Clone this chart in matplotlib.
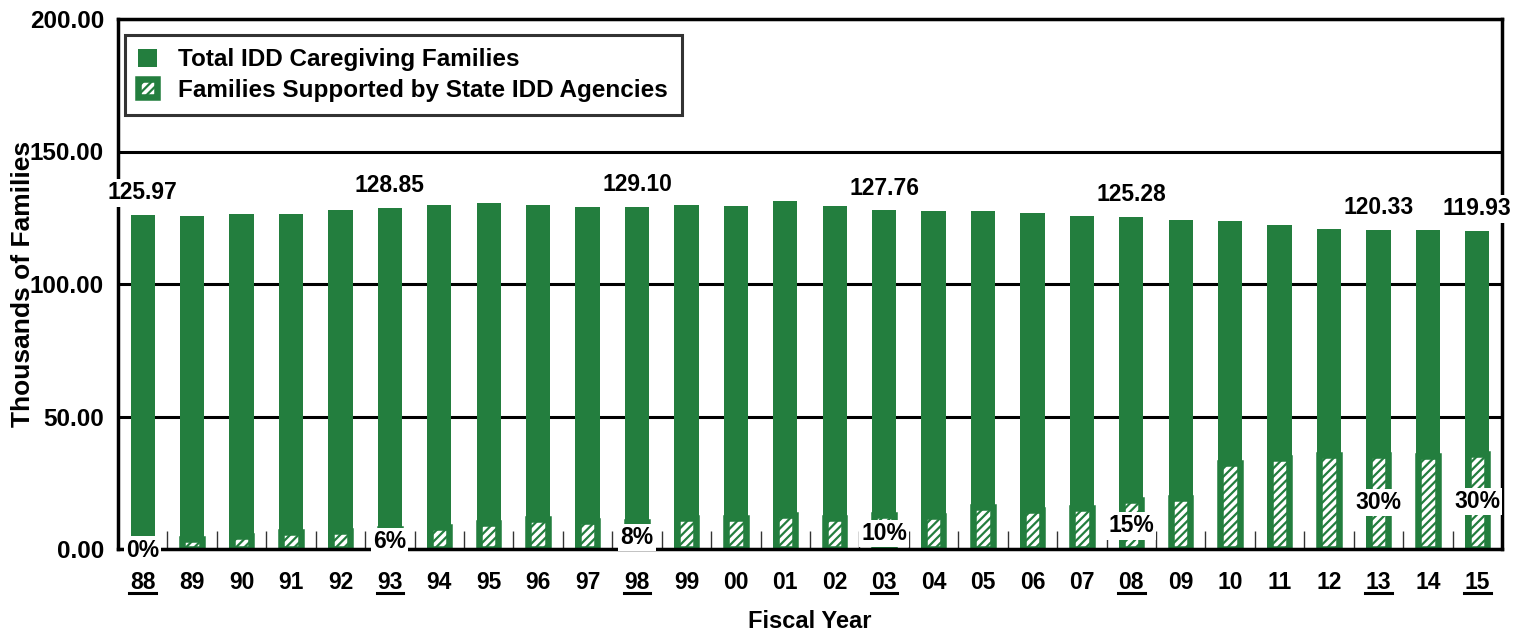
import numpy as np
import matplotlib
matplotlib.use("Agg")
from matplotlib import pyplot as plt
from matplotlib import transforms

plt.rcParams['font.family'] = ['Liberation Sans', 'DejaVu Sans']
plt.rcParams['font.weight'] = 'bold'
plt.rcParams['hatch.linewidth'] = 1.6

# fiscal years and values (thousands of families)
years = ["88", "89", "90", "91", "92", "93", "94", "95", "96", "97",
         "98", "99", "00", "01", "02", "03", "04", "05", "06", "07",
         "08", "09", "10", "11", "12", "13", "14", "15"]
total_families = [125.97, 125.6, 126.3, 126.6, 128.0, 128.85, 129.7, 130.5, 130.0, 128.9,
                  129.10, 129.8, 129.4, 131.4, 129.4, 127.76, 127.7, 127.4, 126.8, 125.5,
                  125.28, 124.3, 123.9, 122.4, 120.9, 120.33, 120.3, 119.93]
supported_families = [0.0, 3.8, 5.0, 6.4, 6.8, 7.7, 8.3, 10.0, 11.2, 10.7,
                      10.3, 11.6, 11.7, 12.8, 11.8, 12.8, 12.4, 15.8, 14.8, 15.6,
                      18.6, 19.2, 32.6, 34.2, 35.6, 35.6, 35.0, 36.0]
# bars that get value labels / underlined year
highlight = [0, 5, 10, 15, 20, 25, 27]
# vertical spot of the percent labels (data units)
pct_label_y = [-0.4, 2.75, 4.5, 6.0, 8.7, 17.4, 17.8]

GREEN = '#237E3E'

fig = plt.figure(figsize=(15.28, 6.31), dpi=100)
ax = fig.add_axes([118 / 1528, 82 / 631, 1384 / 1528, 530 / 631])

x = np.arange(len(years))
ax.bar(x, total_families, width=0.49, color=GREEN, zorder=2,
       label='Total IDD Caregiving Families')
ax.bar(x, supported_families, width=0.395, facecolor='white', edgecolor=GREEN,
       linewidth=4.7, hatch='////', zorder=2.2,
       label='Families Supported by State IDD Agencies')

ax.set_xlim(-0.5, len(years) - 0.5)
ax.set_ylim(0, 200)
ax.set_yticks([0, 50, 100, 150, 200])
ax.set_yticklabels([f"{v:.2f}" for v in [0, 50, 100, 150, 200]])
ax.tick_params(axis='y', length=0, pad=10, labelsize=17.5)

ax.set_xticks(x)
ax.set_xticklabels(years)
ax.tick_params(axis='x', which='major', length=0, pad=16, labelsize=16.5)
ax.set_xticks(x[:-1] + 0.5, minor=True)
ax.tick_params(axis='x', which='minor', direction='in', length=13, width=1.0, color='#333333')

ax.yaxis.grid(True, color='black', linewidth=2.2)
ax.set_axisbelow(True)
for s in ax.spines.values():
    s.set_linewidth(2.5)

ax.set_ylabel('Thousands of Families', fontsize=19, fontweight='bold')
ax.yaxis.set_label_coords(-0.069, 0.5)
ax.yaxis.label.set_verticalalignment('center')
ax.set_xlabel('Fiscal Year', fontsize=17, fontweight='bold')
ax.xaxis.set_label_coords(0.5, -0.136)
ax.xaxis.label.set_verticalalignment('center')

trans = transforms.blended_transform_factory(ax.transData, ax.transAxes)
box = dict(facecolor='white', edgecolor='none', pad=1.5)
for i, ly in zip(highlight, pct_label_y):
    ax.annotate(f"{total_families[i]:.2f}", (x[i], total_families[i]), xytext=(0, 16),
                textcoords='offset points', ha='center', va='center', fontsize=16.5,
                bbox=box, zorder=5, annotation_clip=False)
    pct = round(supported_families[i] / total_families[i] * 100)
    ax.text(x[i], ly, f"{pct}%", ha='center', va='center', fontsize=16.5,
            bbox=box, zorder=5, clip_on=False)
    ax.plot([x[i] - 0.27, x[i] + 0.27], [-0.083, -0.083], color='black', lw=2.2,
            transform=trans, clip_on=False)

leg = ax.legend(loc='upper left', bbox_to_anchor=(0.005, 0.97), borderaxespad=0,
                fontsize=17.5, frameon=True, fancybox=False, borderpad=0.55,
                handlelength=0.75, handleheight=0.75, handletextpad=0.9,
                labelspacing=0.3)
leg.get_frame().set_edgecolor('black')
leg.get_frame().set_linewidth(2.2)
for t in leg.get_texts():
    t.set_fontweight('bold')

fig.savefig('out.png', dpi=100)
